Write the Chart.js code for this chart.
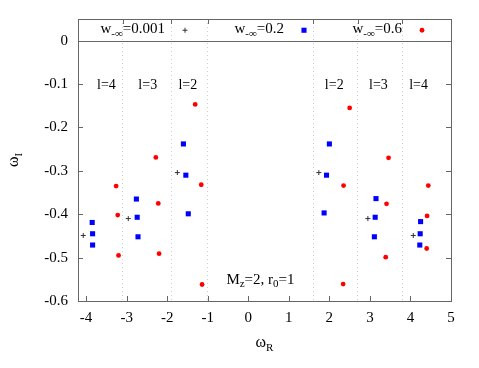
<!DOCTYPE html>
<html>
<head>
<meta charset="utf-8">
<script src="https://cdn.jsdelivr.net/npm/chart.js@4"></script>
<style>
  html, body { margin: 0; padding: 0; background: #fff; }
</style>
</head>
<body>
<canvas id="qnm" width="479" height="368"></canvas>
<script>
// quasinormal frequencies
const plusRe = [-4.07, -2.96, -1.75, 1.74, 2.95, 4.07];
const plusIm = [-0.449, -0.410, -0.304, -0.304, -0.410, -0.449];

const blueRe = [-3.85, -3.84, -3.84, -2.76, -2.74, -2.72, -1.60, -1.54, -1.48,
                2.00, 1.93, 1.87, 3.15, 3.13, 3.11, 4.25, 4.24, 4.23];
const blueIm = [-0.419, -0.445, -0.471, -0.365, -0.407, -0.452, -0.238, -0.310, -0.399,
                -0.238, -0.310, -0.397, -0.364, -0.407, -0.452, -0.417, -0.445, -0.471];

const redRe = [-3.26, -3.22, -3.20, -2.28, -2.22, -2.20, -1.31, -1.16, -1.14,
               2.50, 2.35, 2.34, 3.46, 3.41, 3.39, 4.44, 4.41, 4.40];
const redIm = [-0.335, -0.402, -0.495, -0.269, -0.375, -0.491, -0.147, -0.332, -0.562,
               -0.155, -0.334, -0.561, -0.270, -0.376, -0.499, -0.334, -0.404, -0.479];

const seriesNames = ["0.001", "0.2", "0.6"];
const xTicks = [-4, -3, -2, -1, 0, 1, 2, 3, 4, 5];
const yTicks = [0, -0.1, -0.2, -0.3, -0.4, -0.5, -0.6];
const dividers = [-3.1, -1.9, -1.0, 1.6, 2.7, 3.8];

const groupLabels = ["l=4", "l=3", "l=2", "l=2", "l=3", "l=4"];
const groupLabelRe = [-3.5, -2.48, -1.49, 2.12, 3.21, 4.2];
const groupLabelIm = -0.1;
const noteRe = 0.3, noteIm = -0.549;

const FONT = "'Liberation Serif', 'DejaVu Serif', serif";

const toPoints = (xs, ys) => xs.map((x, i) => ({ x, y: ys[i] }));

// draw text made of [string, isSubscript] pieces
function drawRich(ctx, parts, x, y, size, align) {
  const subSize = Math.round(size * 0.7);
  const widths = parts.map(([t, sub]) => {
    ctx.font = `${sub ? subSize : size}px ${FONT}`;
    return ctx.measureText(t).width;
  });
  const total = widths.reduce((a, b) => a + b, 0);
  let cx = align === "center" ? x - total / 2 : align === "right" ? x - total : x;
  ctx.textAlign = "left";
  ctx.textBaseline = "alphabetic";
  parts.forEach(([t, sub], i) => {
    ctx.font = `${sub ? subSize : size}px ${FONT}`;
    ctx.fillText(t, cx, sub ? y + size * 0.22 : y);
    cx += widths[i];
  });
}

const decorations = {
  id: "decorations",
  afterDraw(chart) {
    const { ctx, chartArea: a, scales } = chart;
    const xs = scales.x, ys = scales.y;
    ctx.save();
    ctx.strokeStyle = "#666";
    ctx.lineWidth = 1;
    ctx.strokeRect(Math.round(a.left) + 0.5, Math.round(a.top) + 0.5,
      Math.round(a.right - a.left), Math.round(a.bottom - a.top));

    // inward tick marks
    ctx.beginPath();
    xs.ticks.forEach(t => {
      const px = Math.round(xs.getPixelForValue(t.value)) + 0.5;
      ctx.moveTo(px, a.bottom); ctx.lineTo(px, a.bottom - 5);
    });
    dividers.forEach(v => {
      const px = Math.round(xs.getPixelForValue(v)) + 0.5;
      ctx.moveTo(px, a.top); ctx.lineTo(px, a.top + 5);
    });
    ys.ticks.forEach(t => {
      const py = Math.round(ys.getPixelForValue(t.value)) + 0.5;
      ctx.moveTo(a.left, py); ctx.lineTo(a.left + 5, py);
      ctx.moveTo(a.right, py); ctx.lineTo(a.right - 5, py);
    });
    // key box bottom (y = 0)
    const y0 = Math.round(ys.getPixelForValue(0)) + 0.5;
    ctx.moveTo(a.left, y0); ctx.lineTo(a.right, y0);
    ctx.stroke();

    // key
    const keyY = (a.top + y0) / 2;
    const keyTextRight = [87, 206, 324];
    chart.data.datasets.forEach((ds, i) => {
      const tx = a.left + keyTextRight[i];
      ctx.fillStyle = "#000";
      drawRich(ctx, [["w", false], ["-\u221e", true], ["=" + seriesNames[i], false]],
        tx, keyY + 3, 15, "right");
      ctx.fillStyle = ds.backgroundColor;
      ctx.strokeStyle = ds.borderColor;
      ctx.lineWidth = ds.borderWidth;
      Chart.helpers.drawPoint(ctx, {
        pointStyle: ds.pointStyle, radius: ds.pointRadius, rotation: 0,
        borderWidth: ds.borderWidth
      }, tx + 20, keyY);
    });

    // group labels
    ctx.fillStyle = "#000";
    groupLabels.forEach((lab, i) => {
      drawRich(ctx, [[lab, false]], xs.getPixelForValue(groupLabelRe[i]),
        ys.getPixelForValue(groupLabelIm) + 5, 14, "center");
    });
    drawRich(ctx, [["M", false], ["z", true], ["=2, r", false], ["0", true], ["=1", false]],
      xs.getPixelForValue(noteRe), ys.getPixelForValue(noteIm) + 5, 15, "center");

    // axis titles
    drawRich(ctx, [["\u03c9", false], ["R", true]], (a.left + a.right) / 2, 347, 16, "center");
    ctx.translate(18, (a.top + a.bottom) / 2);
    ctx.rotate(-Math.PI / 2);
    drawRich(ctx, [["\u03c9", false], ["I", true]], 0, 0, 16, "center");
    ctx.restore();
  }
};

new Chart(document.getElementById("qnm"), {
  type: "scatter",
  data: {
    datasets: [
      {
        label: "w=0.001",
        data: toPoints(plusRe, plusIm),
        pointStyle: "cross",
        pointRadius: 2.5,
        borderWidth: 1,
        borderColor: "#333",
        backgroundColor: "#333",
      },
      {
        label: "w=0.2",
        data: toPoints(blueRe, blueIm),
        pointStyle: "rect",
        pointRadius: 3.6,
        borderWidth: 0,
        borderColor: "#0000ff",
        backgroundColor: "#0000ff",
      },
      {
        label: "w=0.6",
        data: toPoints(redRe, redIm),
        pointStyle: "circle",
        pointRadius: 2.4,
        borderWidth: 0,
        borderColor: "#ff0000",
        backgroundColor: "#ff0000",
      },
    ],
  },
  options: {
    responsive: false,
    animation: false,
    layout: { padding: { top: 15, right: 28, left: 0, bottom: 0 } },
    plugins: { legend: { display: false }, tooltip: { enabled: false } },
    scales: {
      x: {
        type: "linear",
        min: -4.2,
        max: 5,
        afterBuildTicks: (s) => { s.ticks = xTicks.map(v => ({ value: v })); },
        grid: { display: false, drawTicks: false },
        border: { display: false },
        ticks: {
          padding: 8,
          color: "#000",
          font: { family: FONT, size: 15 },
        },
        afterFit: (s) => { s.height = 67; },
      },
      x2: {
        type: "linear",
        position: "top",
        min: -4.2,
        max: 5,
        afterBuildTicks: (s) => { s.ticks = dividers.map(v => ({ value: v })); },
        grid: { color: "#cfcfcf", lineWidth: 1, drawTicks: false },
        border: { display: false, dash: [1, 3] },
        ticks: { display: false },
        afterFit: (s) => { s.height = 0; },
      },
      y: {
        type: "linear",
        min: -0.6,
        max: 0.05,
        afterBuildTicks: (s) => { s.ticks = yTicks.map(v => ({ value: v })); },
        grid: { display: false, drawTicks: false },
        border: { display: false },
        ticks: {
          padding: 10,
          color: "#000",
          font: { family: FONT, size: 15 },
          callback: (v) => (Math.abs(v) < 1e-9 ? "0" : v.toFixed(1)),
        },
        afterFit: (s) => { s.width = 78; },
      },
    },
  },
  plugins: [decorations],
});
</script>
</body>
</html>
